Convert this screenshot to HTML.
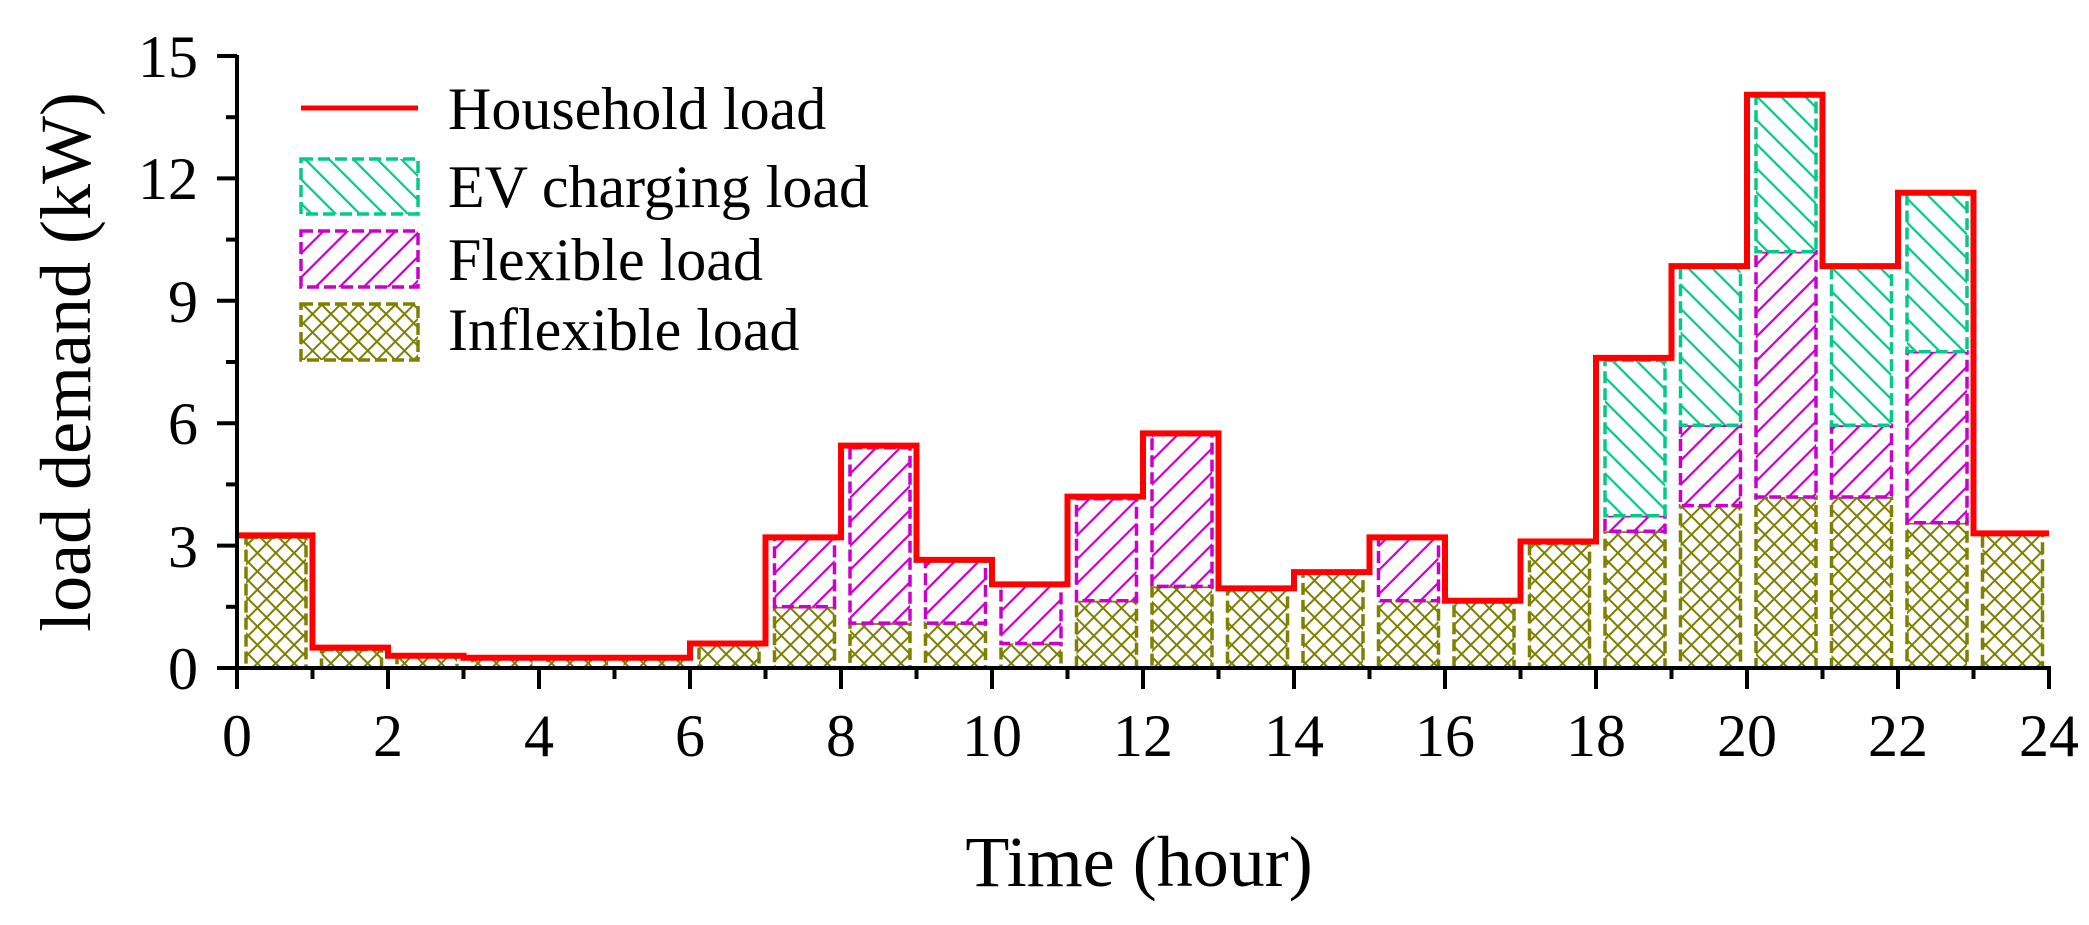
<!DOCTYPE html>
<html><head><meta charset="utf-8"><style>
html,body{margin:0;padding:0;background:#fff;}
svg{display:block;}
text{font-family:"Liberation Serif",serif;fill:#000;}
</style></head><body>
<svg width="2089" height="925" viewBox="0 0 2089 925" xmlns="http://www.w3.org/2000/svg">
<defs>
<pattern id="ev" patternUnits="userSpaceOnUse" width="17" height="17" patternTransform="rotate(-45)">
<rect width="17" height="17" fill="#fff"/><line x1="0" y1="0" x2="0" y2="17" stroke="#00cc88" stroke-width="4.5"/></pattern>
<pattern id="fl" patternUnits="userSpaceOnUse" width="17" height="17" patternTransform="rotate(45)">
<rect width="17" height="17" fill="#fff"/><line x1="0" y1="0" x2="0" y2="17" stroke="#cc00cc" stroke-width="4.5"/></pattern>
<pattern id="in" patternUnits="userSpaceOnUse" width="13" height="13" patternTransform="rotate(45)">
<rect width="13" height="13" fill="#fff"/><line x1="0" y1="0" x2="0" y2="13" stroke="#808000" stroke-width="4"/><line x1="0" y1="0" x2="13" y2="0" stroke="#808000" stroke-width="4"/></pattern>
</defs>

<g stroke="#808000" stroke-width="3.5" stroke-dasharray="12 5" fill="url(#in)">
<rect x="246" y="537.4" width="60" height="130.6"/>
<rect x="321.5" y="649.6" width="60" height="18.4"/>
<rect x="397" y="655.8" width="60" height="12.2"/>
<rect x="472.5" y="657.8" width="60" height="10.2"/>
<rect x="548" y="657.8" width="60" height="10.2"/>
<rect x="623.5" y="657.8" width="60" height="10.2"/>
<rect x="699" y="643.5" width="60" height="24.5"/>
<rect x="774.5" y="606.8" width="60" height="61.2"/>
<rect x="850" y="623.1" width="60" height="44.9"/>
<rect x="925.5" y="623.1" width="60" height="44.9"/>
<rect x="1001" y="643.5" width="60" height="24.5"/>
<rect x="1076.5" y="600.7" width="60" height="67.3"/>
<rect x="1152" y="586.4" width="60" height="81.6"/>
<rect x="1227.5" y="588.4" width="60" height="79.6"/>
<rect x="1303" y="572.1" width="60" height="95.9"/>
<rect x="1378.5" y="600.7" width="60" height="67.3"/>
<rect x="1454" y="600.7" width="60" height="67.3"/>
<rect x="1529.5" y="543.6" width="60" height="124.4"/>
<rect x="1605" y="531.3" width="60" height="136.7"/>
<rect x="1680.5" y="505.6" width="60" height="162.4"/>
<rect x="1756" y="497" width="60" height="171"/>
<rect x="1831.5" y="497" width="60" height="171"/>
<rect x="1907" y="522.8" width="60" height="145.2"/>
<rect x="1982.5" y="534.2" width="60" height="133.8"/>
</g>
<g stroke="#cc00cc" stroke-width="3.5" stroke-dasharray="12 5" fill="url(#fl)">
<rect x="774.5" y="537.4" width="60" height="69.4"/>
<rect x="850" y="447.7" width="60" height="175.4"/>
<rect x="925.5" y="559.9" width="60" height="63.2"/>
<rect x="1001" y="584.4" width="60" height="59.1"/>
<rect x="1076.5" y="498.7" width="60" height="102"/>
<rect x="1152" y="434.6" width="60" height="151.8"/>
<rect x="1378.5" y="537.4" width="60" height="63.3"/>
<rect x="1605" y="515.8" width="60" height="15.5"/>
<rect x="1680.5" y="425.2" width="60" height="80.4"/>
<rect x="1756" y="251.8" width="60" height="245.2"/>
<rect x="1831.5" y="425.2" width="60" height="71.8"/>
<rect x="1907" y="351.8" width="60" height="171"/>
</g>
<g stroke="#00cc88" stroke-width="3.5" stroke-dasharray="12 5" fill="url(#ev)">
<rect x="1605" y="360.4" width="60" height="155.4"/>
<rect x="1680.5" y="266.1" width="60" height="159.1"/>
<rect x="1756" y="93.5" width="60" height="158.3"/>
<rect x="1831.5" y="266.1" width="60" height="159.1"/>
<rect x="1907" y="193.1" width="60" height="158.7"/>
</g>

<path d="M237,535.4 H312.5 V647.6 H388 V655.8 H463.5 V657.8 H690 V643.5 H765.5 V537.4 H841 V445.6 H916.5 V559.9 H992 V584.4 H1067.5 V496.6 H1143 V433.4 H1218.5 V588.4 H1294 V572.1 H1369.5 V537.4 H1445 V600.7 H1520.5 V541.5 H1596 V357.9 H1671.5 V266.1 H1747 V94.8 H1822.5 V266.1 H1898 V192.7 H1973.5 V533.4 H2049" fill="none" stroke="#ff0000" stroke-width="6"/>

<g stroke="#000" stroke-width="4" fill="none">
<line x1="237" y1="55" x2="237" y2="670"/>
<line x1="235" y1="668" x2="2051" y2="668"/>
<line x1="217" y1="56" x2="237" y2="56"/>
<line x1="217" y1="178.4" x2="237" y2="178.4"/>
<line x1="217" y1="300.8" x2="237" y2="300.8"/>
<line x1="217" y1="423.2" x2="237" y2="423.2"/>
<line x1="217" y1="545.6" x2="237" y2="545.6"/>
<line x1="217" y1="668" x2="237" y2="668"/>
<line x1="226" y1="117.2" x2="237" y2="117.2"/>
<line x1="226" y1="239.6" x2="237" y2="239.6"/>
<line x1="226" y1="362" x2="237" y2="362"/>
<line x1="226" y1="484.4" x2="237" y2="484.4"/>
<line x1="226" y1="606.8" x2="237" y2="606.8"/>
<path d="M237,668v21 M388,668v21 M539,668v21 M690,668v21 M841,668v21 M992,668v21 M1143,668v21 M1294,668v21 M1445,668v21 M1596,668v21 M1747,668v21 M1898,668v21 M2049,668v21"/>
<path d="M312.5,668v11 M463.5,668v11 M614.5,668v11 M765.5,668v11 M916.5,668v11 M1067.5,668v11 M1218.5,668v11 M1369.5,668v11 M1520.5,668v11 M1671.5,668v11 M1822.5,668v11 M1973.5,668v11"/>
</g>

<g font-size="60" text-anchor="end">
<text x="198" y="77">15</text>
<text x="198" y="199">12</text>
<text x="198" y="322">9</text>
<text x="198" y="444">6</text>
<text x="198" y="567">3</text>
<text x="198" y="689">0</text>
</g>
<g font-size="60" text-anchor="middle">
<text x="237" y="756">0</text>
<text x="388" y="756">2</text>
<text x="539" y="756">4</text>
<text x="690" y="756">6</text>
<text x="841" y="756">8</text>
<text x="992" y="756">10</text>
<text x="1143" y="756">12</text>
<text x="1294" y="756">14</text>
<text x="1445" y="756">16</text>
<text x="1596" y="756">18</text>
<text x="1747" y="756">20</text>
<text x="1898" y="756">22</text>
<text x="2049" y="756">24</text>
</g>
<text x="1139" y="886" font-size="72" text-anchor="middle">Time (hour)</text>
<text transform="translate(90,362) rotate(-90)" font-size="72" text-anchor="middle">load demand (kW)</text>

<line x1="301" y1="108" x2="418" y2="108" stroke="#ff0000" stroke-width="5"/>
<rect x="301" y="159" width="117" height="55" fill="url(#ev)" stroke="#00cc88" stroke-width="3.5" stroke-dasharray="12 5"/>
<rect x="301" y="231" width="117" height="56" fill="url(#fl)" stroke="#cc00cc" stroke-width="3.5" stroke-dasharray="12 5"/>
<rect x="301" y="304" width="117" height="56" fill="url(#in)" stroke="#808000" stroke-width="3.5" stroke-dasharray="12 5"/>
<g font-size="60">
<text x="448" y="129">Household load</text>
<text x="448" y="207">EV charging load</text>
<text x="448" y="280">Flexible load</text>
<text x="448" y="350">Inflexible load</text>
</g>
</svg>
</body></html>
